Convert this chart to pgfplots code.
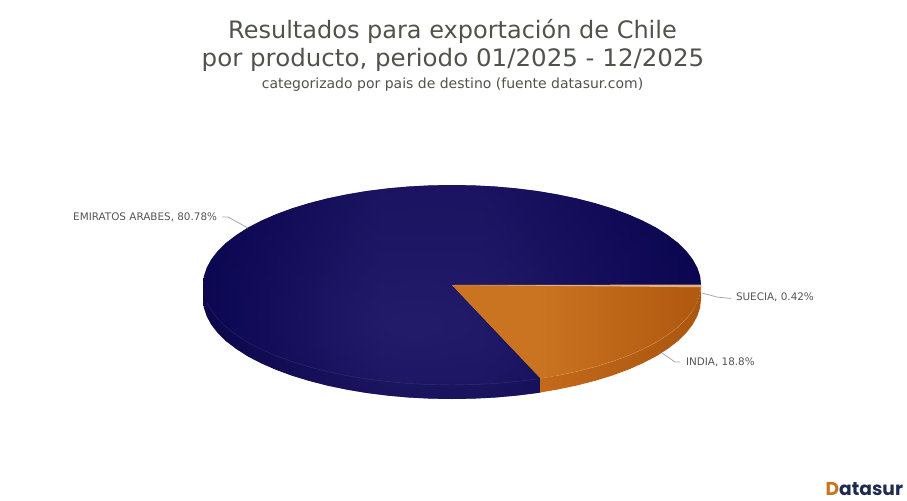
\documentclass[border=0pt]{standalone}
\usepackage{pgfplots}
\pgfplotsset{compat=1.18}
\usepackage{fontspec}
\setmainfont{DejaVu Sans}
\newfontfamily\logofont{Poppins}
\definecolor{titlec}{HTML}{50534A}
\definecolor{labelc}{HTML}{555555}
\definecolor{leadc}{HTML}{A8A8A8}
\definecolor{logoc}{HTML}{1E2B4F}
\definecolor{navyC}{HTML}{2A2372}
\definecolor{navyM}{HTML}{1C1662}
\definecolor{navyD}{HTML}{150F5A}
\definecolor{navyF}{HTML}{100A55}
\definecolor{navyE}{HTML}{05004A}
\definecolor{navyO}{HTML}{1E1766}
\definecolor{orL}{HTML}{CA7421}
\definecolor{orR}{HTML}{B25A10}
\definecolor{orSL}{HTML}{C4691B}
\definecolor{orSR}{HTML}{A9560F}
\pgfdeclareradialshading{navybody}{\pgfpoint{-4bp}{-8bp}}{%
  color(0bp)=(navyC); color(16bp)=(navyM); color(28bp)=(navyD); color(50bp)=(navyF)}
\pgfdeclarehorizontalshading{navyover}{100bp}{%
  color(0bp)=(navyE); color(25bp)=(navyE); color(43bp)=(navyO); color(53bp)=(navyO); color(75bp)=(navyE); color(100bp)=(navyE)}
\pgfdeclarehorizontalshading{orangetop}{100bp}{%
  color(0bp)=(orL); color(25bp)=(orL); color(42bp)=(orL); color(72bp)=(orR); color(100bp)=(orR)}
\pgfdeclarehorizontalshading{orangeside}{100bp}{%
  color(0bp)=(orSL); color(25bp)=(orSL); color(75bp)=(orSR); color(100bp)=(orSR)}
\tikzset{lab/.style={inner sep=0pt, outer sep=0pt}}
\begin{document}
\begin{tikzpicture}
\begin{axis}[
  scale only axis, width=680.25pt, height=375pt,
  xmin=0, xmax=907, ymin=0, ymax=500, y dir=reverse,
  axis lines=none, clip=false,
]
\addplot[draw=none, forget plot] coordinates {(0,0)(907,500)};
% EMIRATOS ARABES 80.78% : top face and side
\addplot[draw=none, shade, shading=navybody] coordinates {
 (452,285)(540.3,378.5)(540.3,392.5)(537.2,393)(516.4,395.6)(495.2,397.5)(473.7,398.6)(452,399)
 (430.3,398.6)(408.8,397.5)(387.6,395.6)(366.8,393)(346.8,389.6)(327.5,385.6)(309.2,380.9)
 (291.9,375.6)(275.9,369.7)(261.3,363.3)(248,356.4)(236.4,349)(226.3,341.3)(218,333.2)
 (211.5,324.9)(206.8,316.4)(203.9,307.7)(203,299)(203,285)
 (203.9,276.3)(206.8,267.6)(211.5,259.1)(218,250.8)(226.3,242.7)(236.4,235)(248,227.6)
 (261.3,220.7)(275.9,214.3)(291.9,208.4)(309.2,203.1)(327.5,198.4)(346.8,194.4)(366.8,191)
 (387.6,188.4)(408.8,186.5)(430.3,185.4)(452,185)(473.7,185.4)(495.2,186.5)(516.4,188.4)
 (537.2,191)(557.2,194.4)(576.5,198.4)(594.8,203.1)(612.1,208.4)(628.1,214.3)(642.7,220.7)
 (656,227.6)(667.6,235)(677.7,242.7)(686,250.8)(692.5,259.1)(697.2,267.6)(700.1,276.3)(701,285)
} --cycle;
% horizontal falloff over the same outline
\addplot[draw=none, shade, shading=navyover, fill opacity=0.6] coordinates {
 (452,285)(540.3,378.5)(540.3,392.5)(537.2,393)(516.4,395.6)(495.2,397.5)(473.7,398.6)(452,399)
 (430.3,398.6)(408.8,397.5)(387.6,395.6)(366.8,393)(346.8,389.6)(327.5,385.6)(309.2,380.9)
 (291.9,375.6)(275.9,369.7)(261.3,363.3)(248,356.4)(236.4,349)(226.3,341.3)(218,333.2)
 (211.5,324.9)(206.8,316.4)(203.9,307.7)(203,299)(203,285)
 (203.9,276.3)(206.8,267.6)(211.5,259.1)(218,250.8)(226.3,242.7)(236.4,235)(248,227.6)
 (261.3,220.7)(275.9,214.3)(291.9,208.4)(309.2,203.1)(327.5,198.4)(346.8,194.4)(366.8,191)
 (387.6,188.4)(408.8,186.5)(430.3,185.4)(452,185)(473.7,185.4)(495.2,186.5)(516.4,188.4)
 (537.2,191)(557.2,194.4)(576.5,198.4)(594.8,203.1)(612.1,208.4)(628.1,214.3)(642.7,220.7)
 (656,227.6)(667.6,235)(677.7,242.7)(686,250.8)(692.5,259.1)(697.2,267.6)(700.1,276.3)(701,285)
} --cycle;
% side darkening
\addplot[draw=none, fill=black, fill opacity=0.05] coordinates {
 (540.3,378.5)(537.2,379)(516.4,381.6)(495.2,383.5)(473.7,384.6)(452,385)(430.3,384.6)(408.8,383.5)
 (387.6,381.6)(366.8,379)(346.8,375.6)(327.5,371.6)(309.2,366.9)(291.9,361.6)(275.9,355.7)
 (261.3,349.3)(248,342.4)(236.4,335)(226.3,327.3)(218,319.2)(211.5,310.9)(206.8,302.4)(203.9,293.7)(203,285)
 (203,299)(203.9,307.7)(206.8,316.4)(211.5,324.9)(218,333.2)(226.3,341.3)(236.4,349)(248,356.4)
 (261.3,363.3)(275.9,369.7)(291.9,375.6)(309.2,380.9)(327.5,385.6)(346.8,389.6)(366.8,393)(387.6,395.6)
 (408.8,397.5)(430.3,398.6)(452,399)(473.7,398.6)(495.2,397.5)(516.4,395.6)(537.2,393)(540.3,392.5)
} --cycle;
% rim highlight, navy
\addplot[color=white, opacity=0.12, line width=0.3pt] coordinates {
 (537.2,379)(516.4,381.6)(495.2,383.5)(473.7,384.6)(452,385)(430.3,384.6)(408.8,383.5)
 (387.6,381.6)(366.8,379)(346.8,375.6)(327.5,371.6)(309.2,366.9)(291.9,361.6)(275.9,355.7)
 (261.3,349.3)(248,342.4)(236.4,335)(226.3,327.3)(218,319.2)(211.5,310.9)(206.8,302.4)
};
% INDIA 18.8% : side
\addplot[draw=none, shade, shading=orangeside] coordinates {
 (701,285)(700.1,293.7)(697.2,302.4)(692.5,310.9)(686,319.2)(677.7,327.3)(667.6,335)(656,342.4)
 (642.7,349.3)(628.1,355.7)(612.1,361.6)(594.8,366.9)(576.5,371.6)(557.2,375.6)(540.3,378.5)
 (540.3,392.5)(557.2,389.6)(576.5,385.6)(594.8,380.9)(612.1,375.6)(628.1,369.7)(642.7,363.3)
 (656,356.4)(667.6,349)(677.7,341.3)(686,333.2)(692.5,324.9)(697.2,316.4)(700.1,307.7)(701,299)
} --cycle;
% INDIA 18.8% : top face
\addplot[draw=none, shade, shading=orangetop] coordinates {
 (452,285)(701,285)(700.1,293.7)(697.2,302.4)(692.5,310.9)(686,319.2)(677.7,327.3)(667.6,335)
 (656,342.4)(642.7,349.3)(628.1,355.7)(612.1,361.6)(594.8,366.9)(576.5,371.6)(557.2,375.6)(540.3,378.5)
} --cycle;
% rim highlight, orange
\addplot[color=orL!70!white, opacity=0.6, line width=0.3pt] coordinates {
 (692.5,310.9)(686,319.2)(677.7,327.3)(667.6,335)(656,342.4)(642.7,349.3)(628.1,355.7)(612.1,361.6)
 (594.8,366.9)(576.5,371.6)(557.2,375.6)
};
% shadow along India / Emirates edge
\addplot[color=black, opacity=0.30, line width=0.5pt] coordinates {(480,316)(540.3,378.5)};
% SUECIA 0.42%
\addplot[draw=none, fill=orL!55!white] coordinates {(452,285)(701,284.6)(701,287.2)} --cycle;
% leader lines
\addplot[color=leadc, line width=0.6pt] coordinates {(222,217)(228,217)(248,228)};
\addplot[color=leadc, line width=0.6pt] coordinates {(702,293)(717,297)(731,298.5)};
\addplot[color=leadc, line width=0.6pt] coordinates {(662,353)(675,362)(680,362)};
% labels
\node[lab, anchor=east, text=labelc, font=\fontsize{7.8pt}{9pt}\selectfont] at (axis cs:217,217) {EMIRATOS ARABES, 80.78\%};
\node[lab, anchor=west, text=labelc, font=\fontsize{7.8pt}{9pt}\selectfont] at (axis cs:736,297.5) {SUECIA, 0.42\%};
\node[lab, anchor=west, text=labelc, font=\fontsize{7.8pt}{9pt}\selectfont] at (axis cs:686,362) {INDIA, 18.8\%};
% titles
\node[lab, text=titlec, font=\fontsize{18pt}{22pt}\selectfont] at (axis cs:452.5,31) {Resultados para exportación de Chile};
\node[lab, text=titlec, font=\fontsize{18pt}{22pt}\selectfont] at (axis cs:453,60) {\scalebox{1.022}[1]{por producto, periodo 01/2025 - 12/2025}};
\node[lab, text=titlec, font=\fontsize{10.5pt}{12pt}\selectfont] at (axis cs:452.5,85) {categorizado por pais de destino (fuente datasur.com)};
% logo
\node[lab, anchor=east, font=\logofont\bfseries\fontsize{14pt}{18pt}\selectfont, text=logoc] at (axis cs:903,489) {\textcolor{orL}{D}atasur};
\end{axis}
\end{tikzpicture}
\end{document}
